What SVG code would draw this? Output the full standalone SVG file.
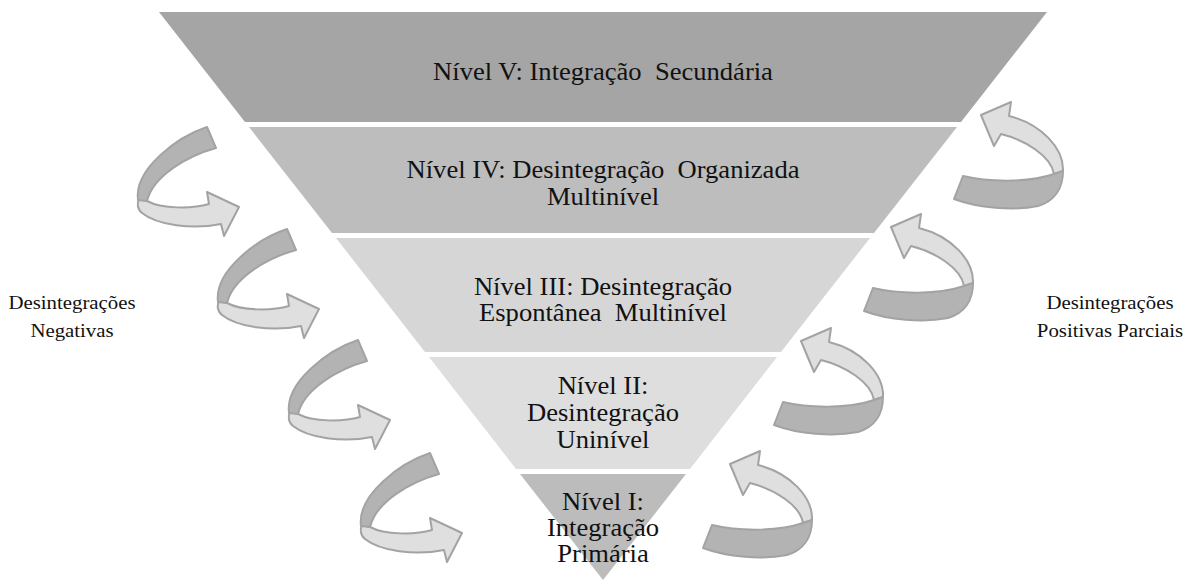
<svg xmlns="http://www.w3.org/2000/svg" width="1191" height="580" viewBox="0 0 1191 580">
<style>
.t{font-family:"Liberation Serif","Times New Roman",serif;font-size:24.5px;fill:#111;text-anchor:middle;white-space:pre}
.s{font-family:"Liberation Serif","Times New Roman",serif;font-size:19.2px;fill:#111;text-anchor:middle}
.dk{fill:#b3b3b3;stroke:#a3a3a3;stroke-width:2;stroke-linejoin:round}
.lt{fill:#dfdfdf;stroke:#a3a3a3;stroke-width:2;stroke-linejoin:round}
</style>
<defs>
<g id="la">
<path class="lt" d="M-68,72 L-60,74 C-45,82 -15,82 2,77 L0,65 L32,80 L17,109 L14,97 C-15,103 -50,98 -65,86 C-70,82 -70,76 -68,72 Z"/>
<path class="dk" d="M0,0 L9,21 C-20,29 -54,49 -60,74 L-69,73 C-73,42 -30,10 0,0 Z"/>
</g>
<g id="ra">
<path class="lt" d="M91,-2 L100,-5 C101,-28 78,-52 46,-60 L48,-74 L18,-61 L31,-30 L38,-42 C62,-36 88,-20 91,-2 Z"/>
<path class="dk" d="M0,0 C25,6 65,7 91,-2 L100,-5 C100,12 92,25 75,30 C50,35 15,32 -9,23 Z"/>
</g>
</defs>
<rect width="1191" height="580" fill="#fff"/>
<g id="level5">
<polygon points="159,12 1047,12 961,122 245,122" fill="#a5a5a5"/>
<text class="t" transform="translate(603,80) scale(1.085,1)" xml:space="preserve">Nível V: Integração  Secundária</text>
</g>
<g id="level4">
<polygon points="249,127 957,127 874,233 332,233" fill="#bdbdbd"/>
<text class="t" transform="translate(603,178) scale(1.085,1)" xml:space="preserve">Nível IV: Desintegração  Organizada</text>
<text class="t" transform="translate(603,205) scale(1.085,1)">Multinível</text>
</g>
<g id="level3">
<polygon points="336,238 870,238 781,352 425,352" fill="#d6d6d6"/>
<text class="t" transform="translate(603,295) scale(1.085,1)">Nível III: Desintegração</text>
<text class="t" transform="translate(603,321) scale(1.085,1)" xml:space="preserve">Espontânea  Multinível</text>
</g>
<g id="level2">
<polygon points="429,357 777,357 690,469 516,469" fill="#dedede"/>
<text class="t" transform="translate(603,394) scale(1.085,1)">Nível II:</text>
<text class="t" transform="translate(603,421) scale(1.085,1)">Desintegração</text>
<text class="t" transform="translate(603,448) scale(1.085,1)">Uninível</text>
</g>
<g id="level1">
<polygon points="520,474 686,474 603,580" fill="#bcbcbc"/>
<text class="t" transform="translate(603,510) scale(1.085,1)">Nível I:</text>
<text class="t" transform="translate(603,536) scale(1.085,1)">Integração</text>
<text class="t" transform="translate(603,562) scale(1.085,1)">Primária</text>
</g>
<g id="connectors">
<use href="#la" transform="translate(207,127)"/>
<use href="#la" transform="translate(287,229)"/>
<use href="#la" transform="translate(358,340)"/>
<use href="#la" transform="translate(430,453)"/>
<use href="#ra" transform="translate(963,176)"/>
<use href="#ra" transform="translate(873,288)"/>
<use href="#ra" transform="translate(783,402)"/>
<use href="#ra" transform="translate(712,525)"/>
</g>
<g id="label-left">
<text class="s" transform="translate(72,309) scale(1.085,1)">Desintegrações</text>
<text class="s" transform="translate(72,337) scale(1.085,1)">Negativas</text>
</g>
<g id="label-right">
<text class="s" transform="translate(1110,309) scale(1.085,1)">Desintegrações</text>
<text class="s" transform="translate(1110,337) scale(1.085,1)">Positivas Parciais</text>
</g>
</svg>
